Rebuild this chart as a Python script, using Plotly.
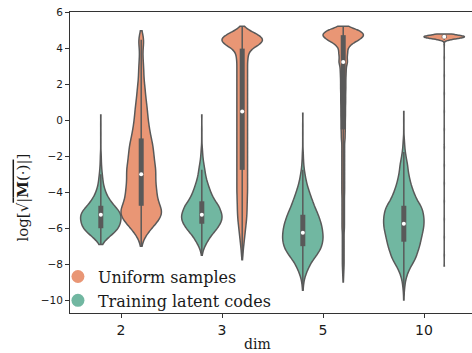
import numpy as np
import plotly.graph_objects as go

# ---------------- data ----------------
dims = ["2", "3", "5", "10"]
y_tick_vals = [-10, -8, -6, -4, -2, 0, 2, 4, 6]
series_names = ["Training latent codes", "Uniform samples"]

# Training latent codes: sample values and how many samples sit at each value
train_d2_vals = [0.3, -0.25, -0.75, -1.25, -1.75, -2.0, -2.25, -2.5, -2.75, -3.0, -3.25, -3.5, -3.75,
                 -4.0, -4.25, -4.5, -4.75, -5.0, -5.25, -5.5, -5.75, -6.0, -6.25, -6.5, -6.75, -6.9]
train_d2_counts = [1, 1, 1, 1, 1, 2, 2, 3, 4, 6, 8, 10, 14,
                   20, 28, 40, 54, 72, 82, 82, 78, 72, 54, 32, 12, 2]

train_d3_vals = [0.3, -0.5, -1.0, -1.5, -1.75, -2.0, -2.25, -2.5, -2.75, -3.0, -3.25, -3.5, -3.75, -4.0,
                 -4.25, -4.5, -4.75, -5.0, -5.25, -5.5, -5.75, -6.0, -6.25, -6.5, -6.75, -7.0, -7.25, -7.5]
train_d3_counts = [1, 1, 1, 2, 3, 4, 6, 9, 12, 14, 18, 23, 29, 35,
                   43, 52, 68, 72, 80, 80, 72, 62, 46, 32, 22, 12, 5, 1]

train_d5_vals = [0.4, -0.25, -0.75, -1.25, -1.75, -2.0, -2.25, -2.5, -2.75, -3.0, -3.25, -3.5, -3.75, -4.0,
                 -4.25, -4.5, -4.75, -5.0, -5.25, -5.5, -5.75, -6.0, -6.25, -6.5, -6.75, -7.0, -7.25,
                 -7.5, -7.75, -8.0, -8.25, -8.5, -8.75, -9.0, -9.25, -9.45]
train_d5_counts = [1, 1, 1, 1, 2, 2, 3, 4, 6, 9, 12, 16, 21, 27,
                   33, 40, 46, 54, 62, 68, 74, 78, 80, 82, 80, 76, 68,
                   56, 42, 30, 22, 14, 8, 4, 2, 1]

train_d10_vals = [0.5, 0.0, -0.5, -1.0, -1.25, -1.5, -1.75, -2.0, -2.25, -2.5, -2.75, -3.0, -3.25, -3.5,
                  -3.75, -4.0, -4.25, -4.5, -4.75, -5.0, -5.25, -5.5, -5.75, -6.0, -6.25, -6.5, -6.75,
                  -7.0, -7.25, -7.5, -7.75, -8.0, -8.25, -8.5, -8.75, -9.0, -9.25, -9.5, -9.75, -10.0]
train_d10_counts = [1, 1, 1, 2, 3, 4, 6, 9, 12, 16, 17, 20, 24, 28,
                    34, 40, 48, 56, 70, 76, 80, 82, 82, 80, 76, 72, 68,
                    64, 58, 52, 46, 34, 24, 16, 10, 6, 4, 2, 1, 1]

# Uniform samples
unif_d2_vals = [5.0, 4.75, 4.5, 4.25, 4.0, 3.75, 3.5, 3.25, 3.0, 2.75, 2.5, 2.25, 2.0, 1.75, 1.5, 1.25,
                1.0, 0.75, 0.5, 0.25, 0.0, -0.25, -0.5, -0.75, -1.0, -1.25, -1.5, -1.75, -2.0, -2.25,
                -2.5, -2.75, -3.0, -3.25, -3.5, -3.75, -4.0, -4.25, -4.5, -4.75, -5.0, -5.25, -5.5,
                -5.75, -6.0, -6.25, -6.5, -6.75, -7.0]
unif_d2_counts = [2, 7, 11, 9, 7, 6, 7, 8, 9, 10, 10, 11, 13, 15, 16, 18,
                  20, 22, 24, 25, 27, 29, 32, 35, 38, 43, 45, 47, 49, 50,
                  53, 56, 55, 55, 55, 58, 59, 61, 64, 72, 80, 80, 70,
                  56, 40, 26, 14, 6, 2]

unif_d3_vals = [5.25, 5.0, 4.75, 4.5, 4.25, 4.0, 3.75, 3.5, 3.25, 3.0, 2.75, 2.5, 2.25, 2.0, 1.75, 1.5,
                1.25, 1.0, 0.75, 0.5, 0.25, 0.0, -0.25, -0.5, -0.75, -1.0, -1.25, -1.5, -1.75, -2.0,
                -2.25, -2.5, -2.75, -3.0, -3.25, -3.5, -3.75, -4.0, -4.25, -4.5, -4.75, -5.0, -5.25,
                -5.5, -5.75, -6.0, -6.25, -6.5, -6.75, -7.0, -7.25, -7.5, -7.75]
unif_d3_counts = [4, 30, 72, 92, 76, 40, 26, 24, 22, 22, 22, 22, 22, 22, 22, 22,
                  22, 22, 22, 22, 22, 22, 22, 22, 22, 22, 22, 22, 22, 22,
                  22, 22, 22, 22, 22, 22, 22, 22, 21, 21, 20, 20, 19,
                  18, 16, 14, 12, 10, 8, 6, 4, 3, 1]

unif_d5_vals = [5.25, 5.0, 4.75, 4.5, 4.25, 4.0, 3.75, 3.5, 3.25, 3.0, 2.75, 2.5, 2.25, 2.0, 1.75, 1.5,
                1.25, 1.0, 0.75, 0.5, 0.25, 0.0, -0.25, -0.5, -0.75, -1.0, -1.25, -1.5, -1.75, -2.0,
                -2.25, -2.5, -2.75, -3.0, -3.25, -3.5, -3.75, -4.0, -4.25, -4.5, -4.75, -5.0, -5.25,
                -5.5, -5.75, -6.0, -6.25, -6.5, -6.75, -7.0, -7.25, -7.5, -7.75, -8.0, -8.25, -8.5,
                -8.75, -9.0]
unif_d5_counts = [20, 100, 125, 95, 46, 26, 26, 22, 26, 18, 17, 16, 15, 15, 15, 14,
                  14, 14, 13, 13, 13, 12, 12, 12, 11, 11, 8, 8, 8, 8,
                  8, 8, 8, 8, 8, 8, 8, 8, 7, 7, 7, 7, 7,
                  7, 7, 7, 5, 5, 5, 5, 5, 5, 5, 5, 4, 3,
                  2, 1]

unif_d10_vals = [4.82, 4.74, 4.66, 4.58, 4.5, 4.2, 3.5, 2.5, 1.5, 0.5, -0.5, -1.5, -2.5, -3.5, -4.5,
                 -5.5, -6.5, -7.5, -8.1]
unif_d10_counts = [20, 60, 100, 60, 20, 1, 1, 1, 1, 1, 1, 1, 1, 1, 1,
                   1, 1, 1, 1]

train_vals = [train_d2_vals, train_d3_vals, train_d5_vals, train_d10_vals]
train_counts = [train_d2_counts, train_d3_counts, train_d5_counts, train_d10_counts]
unif_vals = [unif_d2_vals, unif_d3_vals, unif_d5_vals, unif_d10_vals]
unif_counts = [unif_d2_counts, unif_d3_counts, unif_d5_counts, unif_d10_counts]
train_bw = [0.2, 0.2, 0.2, 0.2]
unif_bw = [0.27, 0.18, 0.15, 0.07]

# ---------------- styling ----------------
GREEN = "#71b7a1"
ORANGE = "#e99675"
GRAY = "#595959"
SERIF = "DejaVu Serif"
SANS = "DejaVu Sans"

fig = go.Figure()

# legend entries (circle markers)
for name, col in [("Uniform samples", ORANGE), ("Training latent codes", GREEN)]:
    fig.add_trace(go.Scatter(x=[None], y=[None], mode="markers", name=name,
                             marker=dict(color=col, size=13, symbol="circle")))


def add_violin(pos, samples, color, bw):
    fig.add_trace(go.Violin(
        x0=pos, y=samples, width=0.4, fillcolor=color,
        line=dict(color=GRAY, width=1.5), points=False, spanmode="hard",
        bandwidth=bw, scalemode="width", showlegend=False, hoverinfo="skip",
        box_visible=False, meanline_visible=False, orientation="v"))
    q1, q2, q3 = np.percentile(samples, [25, 50, 75])
    lim = 1.5 * (q3 - q1)
    h1 = samples[samples >= q1 - lim].min()
    h2 = samples[samples <= q3 + lim].max()
    fig.add_trace(go.Scatter(x=[pos, pos], y=[h1, h2], mode="lines",
                             line=dict(color=GRAY, width=1.5), showlegend=False, hoverinfo="skip"))
    fig.add_trace(go.Scatter(x=[pos, pos], y=[q1, q3], mode="lines",
                             line=dict(color=GRAY, width=5), showlegend=False, hoverinfo="skip"))
    fig.add_trace(go.Scatter(x=[pos], y=[q2], mode="markers",
                             marker=dict(color="white", size=4, line=dict(width=0)),
                             showlegend=False, hoverinfo="skip"))


for i in range(len(dims)):
    s_train = np.repeat(np.array(train_vals[i], float), train_counts[i])
    s_unif = np.repeat(np.array(unif_vals[i], float), unif_counts[i])
    add_violin(i - 0.2, s_train, GREEN, train_bw[i])
    add_violin(i + 0.2, s_unif, ORANGE, unif_bw[i])

fig.update_layout(
    width=472, height=353,
    margin=dict(l=70, r=0, t=12, b=40),
    plot_bgcolor="white", paper_bgcolor="white",
    showlegend=True,
    legend=dict(x=-0.03, y=0.081, xanchor="left", yanchor="middle",
                font=dict(family=SERIF, size=16, color="#1a1a1a"),
                bgcolor="rgba(255,255,255,0)", borderwidth=0, tracegroupgap=0),
    violinmode="overlay",
)
fig.update_xaxes(
    range=[-0.505, 3.475], tickmode="array", tickvals=list(range(len(dims))), ticktext=dims,
    showline=True, linecolor="#333333", linewidth=1, mirror=True,
    ticks="outside", ticklen=4, tickcolor="#333333", showgrid=False, zeroline=False,
    tickfont=dict(family=SANS, size=14, color="#1a1a1a"),
)
fig.update_yaxes(
    range=[-10.72, 6.04], tickmode="array", tickvals=y_tick_vals,
    showline=True, linecolor="#333333", linewidth=1, mirror=False,
    ticks="outside", ticklen=4, tickcolor="#333333", showgrid=False, zeroline=False,
    tickfont=dict(family=SANS, size=10.5, color="#1a1a1a"),
)
fig.add_annotation(text="dim", xref="paper", yref="paper", x=0.467, y=-0.1046,
                   xanchor="center", yanchor="middle", showarrow=False,
                   font=dict(family=SERIF, size=14, color="#1a1a1a"))
fig.add_annotation(text='log[√<span style="text-decoration:overline">|<b>M</b>(·)|</span>]',
                   xref="paper", yref="paper", x=-0.118, y=0.382, textangle=-90,
                   xanchor="center", yanchor="middle", showarrow=False,
                   font=dict(family=SERIF, size=15, color="#1a1a1a"))

fig.write_html("out.html")
